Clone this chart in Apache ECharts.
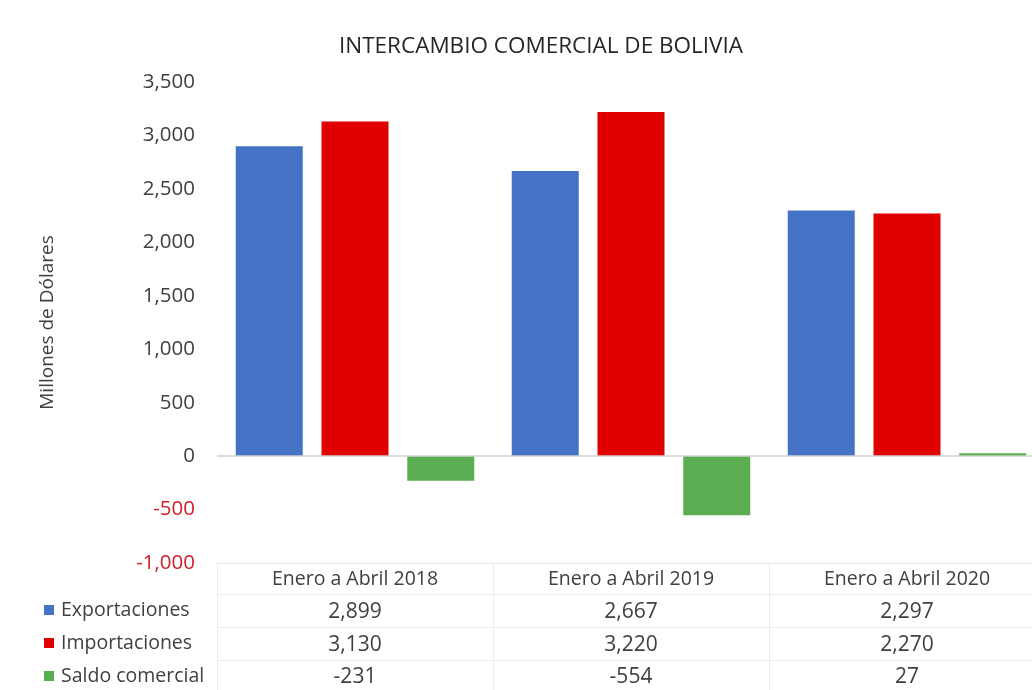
<!DOCTYPE html>
<html>
<head>
<meta charset="utf-8">
<script src="https://cdn.jsdelivr.net/npm/echarts@6/dist/echarts.min.js"></script>
<style>html,body{margin:0;padding:0;background:#fff}#wrap{width:1032px;height:690px;overflow:hidden;position:relative}#c{width:1045px;height:690px;position:absolute;left:0;top:0}</style>
</head>
<body>
<div id="wrap"><div id="c"></div></div>
<script>
var categories = ['Enero a Abril 2018', 'Enero a Abril 2019', 'Enero a Abril 2020'];
var seriesNames = ['Exportaciones', 'Importaciones', 'Saldo comercial'];
var exportaciones = [2899, 2667, 2297];
var importaciones = [3130, 3220, 2270];
var saldo = [-231, -554, 27];
var colors = ['#4472c4', '#e00000', '#5aad50'];
var FONT = 'Open Sans';
var TXT = '#404040';
var fmt = function (v) { return v.toLocaleString('en-US'); };
var allValues = [exportaciones, importaciones, saldo];

var chart = echarts.init(document.getElementById('c'));
var option = {
  animation: false,
  title: {
    text: 'INTERCAMBIO COMERCIAL DE BOLIVIA',
    left: 536, top: 30, textAlign: 'center',
    textStyle: { fontFamily: FONT, fontSize: 22.5, fontWeight: 'normal', color: '#262626' }
  },
  grid: { left: 217, top: 82, width: 828, bottom: 127, containLabel: false },
  xAxis: {
    type: 'category', data: categories,
    axisLine: { onZero: false, lineStyle: { color: '#e6e6e6' } },
    axisTick: { show: false },
    axisLabel: {
      margin: 0, interval: 0, color: TXT,
      rich: {
        h: { fontFamily: FONT, fontSize: 19.5, color: TXT, lineHeight: 32.7 },
        n: { fontFamily: FONT, fontSize: 21, color: TXT, lineHeight: 32.7 }
      },
      formatter: function (v, i) {
        return ['{h|' + v + '}'].concat(allValues.map(function (a) { return '{n|' + fmt(a[i]) + '}'; })).join('\n');
      }
    }
  },
  yAxis: {
    type: 'value', min: -1000, max: 3500, interval: 500,
    name: 'Millones de Dólares', nameLocation: 'middle', nameGap: 160, nameRotate: 90,
    nameTextStyle: { fontFamily: FONT, fontSize: 19, color: TXT },
    axisLine: { show: false }, axisTick: { show: false }, splitLine: { show: false },
    axisLabel: {
      margin: 22, fontFamily: FONT, fontSize: 20.5,
      color: function (v) { return v < 0 ? '#d0202a' : TXT; },
      formatter: function (v) { return fmt(v); }
    }
  },
  series: seriesNames.map(function (n, k) {
    var s = {
      name: n, type: 'bar', data: allValues[k],
      barWidth: 67, barGap: '28%',
      itemStyle: { color: colors[k] }
    };
    if (k === 0) {
      s.markLine = {
        silent: true, symbol: 'none', label: { show: false },
        lineStyle: { color: '#d0d0d0', width: 1.5, type: 'solid' },
        data: [{ yAxis: 0 }]
      };
    }
    return s;
  })
};
chart.setOption(option);

// table grid lines and row legend
var g = [];
[594, 627, 660].forEach(function (y) {
  g.push({ type: 'line', silent: true, shape: { x1: 217, y1: y + 0.5, x2: 1045, y2: y + 0.5 }, style: { stroke: '#ececec', lineWidth: 1 } });
});
for (var i = 0; i < categories.length; i++) {
  var x = Math.round(chart.convertToPixel({ xAxisIndex: 0 }, i) - 138) + 0.5;
  g.push({ type: 'line', silent: true, shape: { x1: x, y1: 563, x2: x, y2: 690 }, style: { stroke: '#ececec', lineWidth: 1 } });
}
seriesNames.forEach(function (n, k) {
  var cy = 610 + k * 33;
  g.push({ type: 'rect', silent: true, shape: { x: 44, y: cy - 5, width: 10, height: 10 }, style: { fill: colors[k] } });
  g.push({ type: 'text', silent: true, x: 61, y: cy, style: { text: n, fontFamily: FONT, fontSize: 19.5, fill: TXT, verticalAlign: 'middle', align: 'left' } });
});
chart.setOption({ graphic: g });
</script>
</body>
</html>
